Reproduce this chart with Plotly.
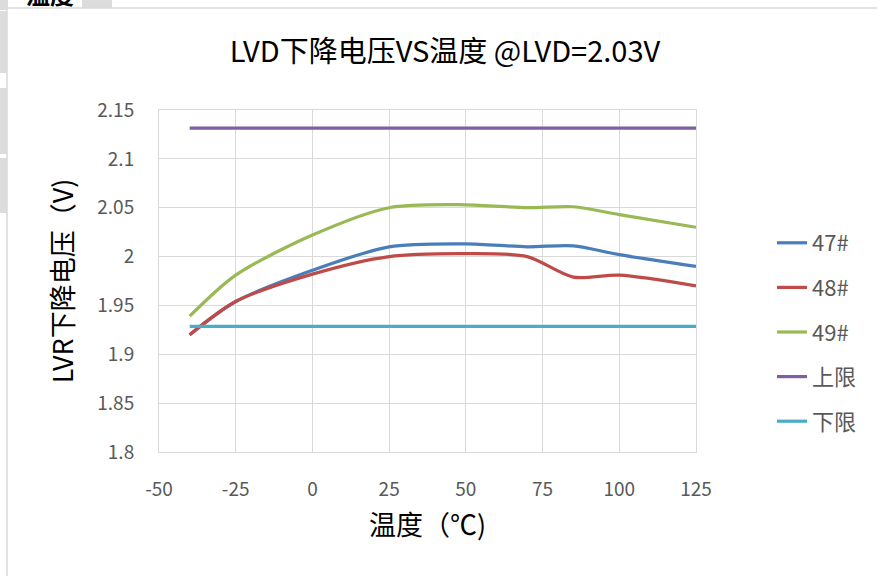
import plotly.graph_objects as go

temps = [-40, -25, 0, 25, 50, 70, 85, 100, 125]
v47 = [1.920, 1.954, 1.986, 2.010, 2.013, 2.010, 2.011, 2.002, 1.990]
v48 = [1.920, 1.954, 1.982, 2.000, 2.003, 2.000, 1.979, 1.981, 1.970]
v49 = [1.939, 1.981, 2.022, 2.050, 2.053, 2.050, 2.051, 2.043, 2.030]
lim_x = [-40, 125]
upper = [2.1315, 2.1315]
lower = [1.9285, 1.9285]

x_ticks = [-50, -25, 0, 25, 50, 75, 100, 125]
y_ticks = [1.8, 1.85, 1.9, 1.95, 2.0, 2.05, 2.1, 2.15]

W, H = 877, 576
L, R, T, B = 159, 696, 110, 452


def px(x):
    return (x - L) / (R - L)


def py(y):
    return (B - y) / (B - T)


fnt = "Noto Sans CJK SC, Microsoft YaHei, sans-serif"

series = [
    ("47#", temps, v47, "#4A7EBB"),
    ("48#", temps, v48, "#BE4B48"),
    ("49#", temps, v49, "#98B954"),
    ("上限", lim_x, upper, "#7D60A0"),
    ("下限", lim_x, lower, "#4BACC6"),
]

fig = go.Figure()
for name, xs, ys, col in series:
    fig.add_trace(go.Scatter(
        x=xs, y=ys, name=name, mode="lines", legendgroup=name,
        line=dict(color=col, width=3.2, shape="spline", smoothing=0.8),
    ))

# grey watermark bits outside the chart frame + the frame itself
shapes = []
for x0, y0, x1, y1 in [(0, 0, 8, 10), (0, 11, 7, 73), (0, 88, 7, 154),
                       (0, 158, 7, 213), (82, 0, 112, 8)]:
    shapes.append(dict(type="rect", xref="paper", yref="paper",
                       x0=px(x0), x1=px(x1), y0=py(y0), y1=py(y1),
                       fillcolor="#DCDCDC", line_width=0, layer="below"))
shapes.append(dict(type="rect", xref="paper", yref="paper",
                   x0=px(7), x1=px(920), y0=py(8), y1=py(620),
                   fillcolor="white", line=dict(color="#D9D9D9", width=1.5),
                   layer="below"))

fig.update_layout(
    width=W, height=H,
    margin=dict(l=L, r=W - R, t=T, b=H - B),
    paper_bgcolor="white", plot_bgcolor="rgba(0,0,0,0)",
    font=dict(family=fnt, color="#595959", size=19),
    title=dict(text="LVD下降电压VS温度 @LVD=2.03V", x=445 / W, xref="container",
               y=1 - 52 / H, yref="container", xanchor="center", yanchor="middle",
               font=dict(size=29, color="#000000", family=fnt)),
    shapes=shapes,
    legend=dict(x=px(772), y=py(222), xanchor="left", yanchor="top",
                tracegroupgap=13, font=dict(size=22, color="#595959"),
                bgcolor="rgba(0,0,0,0)"),
    annotations=[dict(text="<b>温度</b>", xref="paper", yref="paper",
                      x=px(50), y=py(-6), showarrow=False, xanchor="center",
                      yanchor="middle", font=dict(size=24, color="#000000"))],
)
fig.update_xaxes(
    range=[-50, 125], tickvals=x_ticks, ticktext=[str(v) for v in x_ticks],
    showgrid=True, gridcolor="#D9D9D9", gridwidth=1,
    showline=True, linecolor="#D9D9D9", mirror=True, zeroline=False,
    ticks="outside", ticklen=20, tickcolor="rgba(0,0,0,0)",
    title=dict(text="温度（℃)", standoff=16, font=dict(size=27, color="#000000")),
)
fig.update_yaxes(
    range=[1.8, 2.15], tickvals=y_ticks, ticktext=[f"{v:g}" for v in y_ticks],
    showgrid=True, gridcolor="#D9D9D9", gridwidth=1,
    showline=True, linecolor="#D9D9D9", mirror=True, zeroline=False,
    ticks="outside", ticklen=20, tickcolor="rgba(0,0,0,0)",
    title=dict(text="LVR下降电压（V)", standoff=15, font=dict(size=27, color="#000000")),
)

fig.write_html("out.html", config={"displayModeBar": False},
               post_script="document.body.style.margin='0';")
